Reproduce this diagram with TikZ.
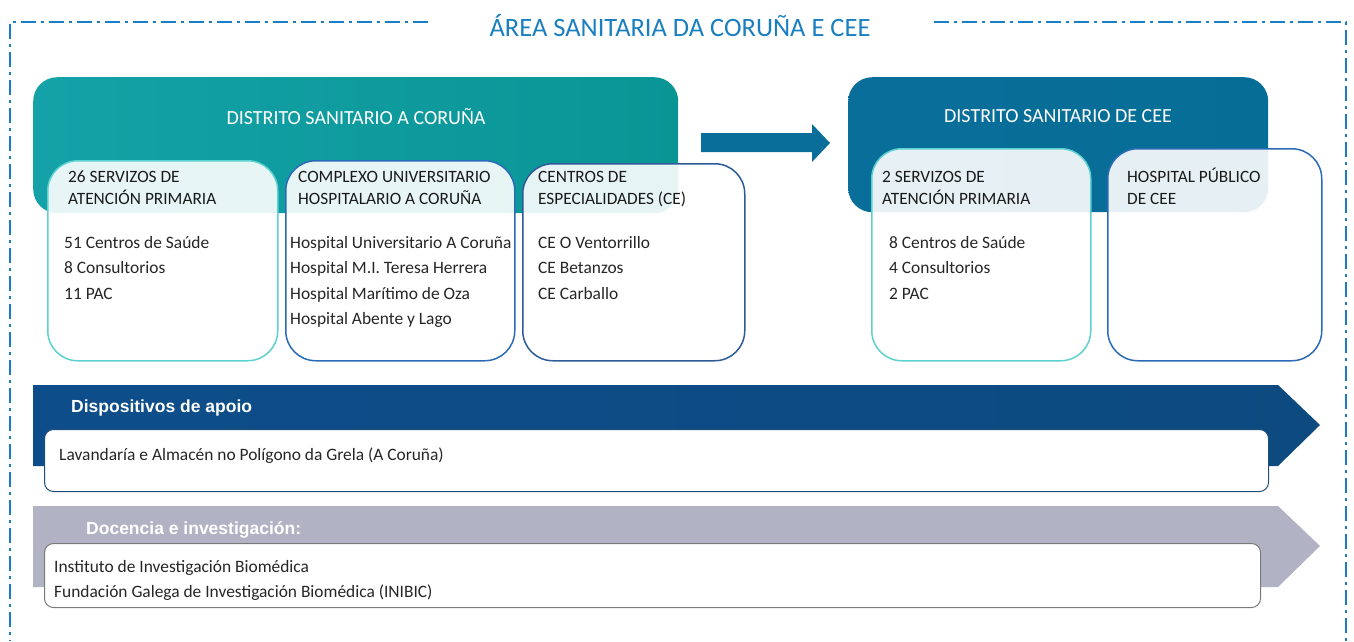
\documentclass[tikz,border=0pt]{standalone}
\usepackage{fontspec}
\setmainfont{Carlito}
\newfontfamily\labfont{Liberation Sans}
\definecolor{framecol}{HTML}{1A7EC4}
\definecolor{titlecol}{HTML}{1A7FC1}
\definecolor{tealA}{HTML}{14A2A8}
\definecolor{tealB}{HTML}{0FBEC7}
\definecolor{tealC}{HTML}{0A9595}
\definecolor{ceeA}{HTML}{0A6E9A}
\definecolor{ceeB}{HTML}{028FC8}
\definecolor{ceeC}{HTML}{066E96}
\definecolor{cyanb}{HTML}{5CD2D0}
\definecolor{blueb}{HTML}{2A6BB8}
\definecolor{dblueb}{HTML}{2D5B98}
\definecolor{bandA}{HTML}{0D4D8A}
\definecolor{bandB}{HTML}{0F66B1}
\definecolor{bandC}{HTML}{0C4A80}
\definecolor{greyband}{HTML}{B1B3C5}
\definecolor{greyline}{HTML}{7A7A7A}
\definecolor{boxline}{HTML}{1F4E79}
\definecolor{txt}{HTML}{262626}
\definecolor{hdtxt}{HTML}{1A1A1A}
\tikzset{
  framestyle/.style={draw=framecol, line width=2.5pt, dash pattern=on 15pt off 5pt on 3pt off 5pt},
  district/.style={rounded corners=24pt, anchor=north west, inner sep=0pt, draw=none},
  disttitle/.style={text=white, font=\fontsize{20}{24}\selectfont},
  subbox/.style={rounded corners=30pt, anchor=north west, inner sep=0pt, fill=white, fill opacity=0.9, line width=1.5pt},
  hd/.style={anchor=base west, inner sep=0pt, text=hdtxt, font=\fontsize{17.3}{20}\selectfont},
  item/.style={anchor=base west, inner sep=0pt, text=txt, font=\fontsize{17.4}{20}\selectfont},
  whitebox/.style={rounded corners=9pt, anchor=north west, inner sep=0pt, fill=white, line width=1pt},
  bandlabel/.style={anchor=base west, inner sep=0pt, text=white, font=\labfont\bfseries\fontsize{17.5}{20}\selectfont},
}
\begin{document}
\begin{tikzpicture}[x=1pt,y=-1pt]
\useasboundingbox (0,0) rectangle (1354,641);
% frame
\draw[framestyle] (428,22) -- (10,22) -- (10,641);
\draw[framestyle] (934,22) -- (1346,22) -- (1346,641);
\node[text=titlecol, font=\fontsize{26.5}{30}\selectfont, inner sep=0pt] (title) at (680,26) {ÁREA SANITARIA DA CORUÑA E CEE};
% district boxes
\node[district, minimum width=645pt, minimum height=136pt, left color=tealA, middle color=tealB, right color=tealC] (dA) at (33,77) {};
\node[district, minimum width=420pt, minimum height=135pt, left color=ceeA, middle color=ceeB, right color=ceeC] (dC) at (848,77) {};
\node[disttitle] (dAt) at (356,117) {DISTRITO SANITARIO A CORUÑA};
\node[disttitle] (dCt) at (1058,116) {DISTRITO SANITARIO DE CEE};
% arrow between districts
\shade[left color=ceeA, middle color=ceeB, right color=ceeA] (701,133) -- (812,133) -- (812,124) -- (830,143) -- (812,162) -- (812,152) -- (701,152) -- cycle;
% sub boxes
\node[subbox, draw=cyanb, minimum width=230pt, minimum height=200pt] (s1) at (47,160) {};
\node[subbox, draw=blueb, minimum width=229pt, minimum height=200pt] (s2) at (285,160) {};
\node[subbox, draw=dblueb, minimum width=222pt, minimum height=197pt] (s3) at (522,163) {};
\node[subbox, draw=cyanb, minimum width=219pt, minimum height=212pt] (s4) at (871,148) {};
\node[subbox, draw=blueb, minimum width=214pt, minimum height=212pt] (s5) at (1107,148) {};
% headers
\node[hd] (s1h1) at (68,182) {26 SERVIZOS DE};
\node[hd] (s1h2) at (68,204) {ATENCIÓN PRIMARIA};
\node[hd] (s2h1) at (298,182) {COMPLEXO UNIVERSITARIO};
\node[hd] (s2h2) at (298,204) {HOSPITALARIO A CORUÑA};
\node[hd] (s3h1) at (538,182) {CENTROS DE};
\node[hd] (s3h2) at (538,204) {ESPECIALIDADES (CE)};
\node[hd] (s4h1) at (882,182) {2 SERVIZOS DE};
\node[hd] (s4h2) at (882,204) {ATENCIÓN PRIMARIA};
\node[hd] (s5h1) at (1127,182) {HOSPITAL PÚBLICO};
\node[hd] (s5h2) at (1127,204) {DE CEE};
% items
\foreach \t [count=\i] in {51 Centros de Saúde, 8 Consultorios, 11 PAC}
  \node[item] (s1i\i) at ({64},{248+25.5*(\i-1)}) {\t};
\foreach \t [count=\i] in {Hospital Universitario A Coruña, Hospital M.I. Teresa Herrera, Hospital Marítimo de Oza, Hospital Abente y Lago}
  \node[item] (s2i\i) at ({290},{248+25.5*(\i-1)}) {\t};
\foreach \t [count=\i] in {CE O Ventorrillo, CE Betanzos, CE Carballo}
  \node[item] (s3i\i) at ({538},{248+25.5*(\i-1)}) {\t};
\foreach \t [count=\i] in {8 Centros de Saúde, 4 Consultorios, 2 PAC}
  \node[item] (s4i\i) at ({889},{248+25.5*(\i-1)}) {\t};
% bands
\shade[left color=bandA, middle color=bandB, right color=bandC] (33,385) -- (1278,385) -- (1320,425) -- (1278,466) -- (33,466) -- cycle;
\node[whitebox, draw=boxline, minimum width=1224pt, minimum height=62pt] (wb1) at (44,429) {};
\node[bandlabel] (b1l) at (71,412) {Dispositivos de apoio};
\node[item] (wb1t) at (59,460) {Lavandaría e Almacén no Polígono da Grela (A Coruña)};
\fill[greyband] (33,506) -- (1278,506) -- (1320,546) -- (1278,587) -- (33,587) -- cycle;
\node[whitebox, draw=greyline, minimum width=1216pt, minimum height=64pt] (wb2) at (44,543) {};
\node[bandlabel] (b2l) at (86,534) {Docencia e investigación:};
\node[item] (wb2t1) at (54,572) {Instituto de Investigación Biomédica};
\node[item] (wb2t2) at (54,597) {Fundación Galega de Investigación Biomédica (INIBIC)};
\end{tikzpicture}
\end{document}
